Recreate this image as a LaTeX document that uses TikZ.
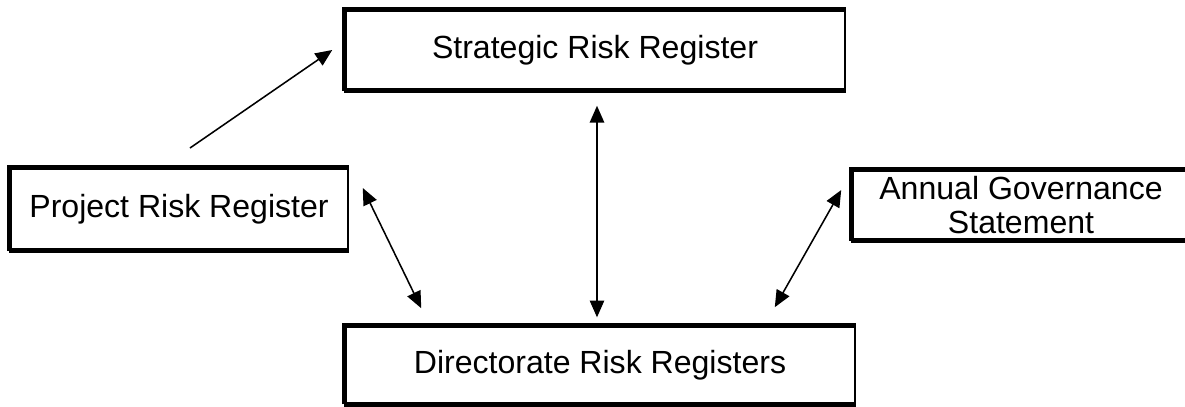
\documentclass[tikz,border=0pt]{standalone}
\usepackage{fontspec}
\setmainfont{Liberation Sans}
\usetikzlibrary{arrows.meta}

\begin{document}
\begin{tikzpicture}[
    regbox/.style={draw, line width=1.1pt, align=center, inner sep=0pt,
        font=\fontsize{22.8}{24}\selectfont},
    link/.style={line width=1.1pt, {Triangle[length=0.42cm,width=0.36cm]}-{Triangle[length=0.42cm,width=0.36cm]}}
]

    % Page size (1185 x 406 px, 40 px per cm)
    \useasboundingbox (0,0) rectangle (29.625,-10.15);

    % Registers
    \node[regbox, minimum width=12.5cm, minimum height=2cm] (strategic)
        at (14.875,-1.25) {Strategic Risk Register};
    \node[regbox, minimum width=8.45cm, minimum height=2.05cm] (project)
        at (4.475,-5.225) {Project Risk Register};
    \node[regbox, minimum width=8.45cm, minimum height=1.75cm] (annual)
        at (25.525,-5.125) {Annual Governance\\Statement};
    \node[regbox, minimum width=12.75cm, minimum height=1.925cm] (directorate)
        at (15,-9.125) {Directorate Risk Registers};

    % Heavy edges on left, top and bottom of each box
    \foreach \n in {strategic,project,annual,directorate} {
        \draw[line width=3.6pt] (\n.south west) -- (\n.north west) -- (\n.north east);
        \draw[line width=3.6pt] (\n.south west) -- (\n.south east);
    }

    % Project feeds the strategic register
    \coordinate (projtail) at (4.75,-3.7);
    \draw[line width=1.1pt, -{Triangle[length=0.42cm,width=0.36cm]}]
        (projtail) -- ([xshift=-0.3cm]strategic.west);

    % Two-way links with the directorate registers
    \draw[link] ([shift={(0.35,0.525)}]project.east)
        -- ([shift={(1.925,0.4375)}]directorate.north west);
    \draw[link, shorten <=0.375cm, shorten >=0.21cm]
        ([xshift=0.05cm]strategic.south) -- ([xshift=0.05cm]strategic.south |- directorate.north);
    \draw[link] ([shift={(-0.25,0.375)}]annual.west)
        -- ([shift={(-2.025,0.4625)}]directorate.north east);

\end{tikzpicture}
\end{document}
